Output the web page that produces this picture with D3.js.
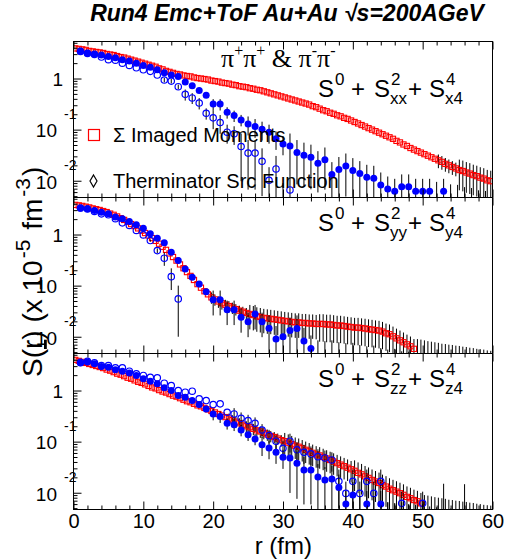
<!DOCTYPE html>
<html><head><meta charset="utf-8">
<script src="https://cdn.jsdelivr.net/npm/d3@7"></script>
<style>body{margin:0;background:#fff}svg{display:block}</style>
</head><body>
<svg id="c" width="508" height="559"></svg>
<script>
// ---------------- DATA ----------------
const rRed = [0.25,0.75,1.25,1.75,2.25,2.75,3.25,3.75,4.25,4.75,5.25,5.75,6.25,6.75,7.25,7.75,8.25,8.75,9.25,9.75,
10.25,10.75,11.25,11.75,12.25,12.75,13.25,13.75,14.25,14.75,15.25,15.75,16.25,16.75,17.25,17.75,18.25,18.75,19.25,19.75,
20.25,20.75,21.25,21.75,22.25,22.75,23.25,23.75,24.25,24.75,25.25,25.75,26.25,26.75,27.25,27.75,28.25,28.75,29.25,29.75,
30.25,30.75,31.25,31.75,32.25,32.75,33.25,33.75,34.25,34.75,35.25,35.75,36.25,36.75,37.25,37.75,38.25,38.75,39.25,39.75,
40.25,40.75,41.25,41.75,42.25,42.75,43.25,43.75,44.25,44.75,45.25,45.75,46.25,46.75,47.25,47.75,48.25,48.75,49.25,49.75,
50.25,50.75,51.25,51.75,52.25,52.75,53.25,53.75,54.25,54.75,55.25,55.75,56.25,56.75,57.25,57.75,58.25,58.75,59.25,59.75];

const redTop = [3.89,3.80,3.72,3.63,3.47,3.39,3.31,3.24,3.16,3.02,2.95,2.88,2.75,2.63,2.57,2.45,2.34,2.24,2.14,2.04,
1.95,1.86,1.78,1.70,1.58,1.51,1.41,1.35,1.29,1.23,1.20,1.15,1.12,1.10,1.05,1.02,1.00,0.977,0.955,0.912,
0.891,0.871,0.832,0.813,0.794,0.759,0.741,0.708,0.692,0.676,0.646,0.631,0.603,0.589,0.562,0.537,0.513,0.490,0.468,0.447,
0.427,0.407,0.389,0.372,0.355,0.339,0.324,0.309,0.288,0.275,0.257,0.240,0.229,0.214,0.204,0.191,0.182,0.170,0.162,0.151,
0.141,0.132,0.123,0.115,0.107,0.100,0.0933,0.0871,0.0813,0.0759,0.0708,0.0661,0.0603,0.0562,0.0513,0.0479,0.0437,0.0407,0.0380,0.0355,
0.0331,0.0309,0.0288,0.0269,0.0251,0.0234,0.0214,0.0200,0.0186,0.0174,0.0162,0.0155,0.0145,0.0138,0.0129,0.0123,0.0115,0.0110,0.0102,0.0098];
const redTopErr = [0,0,0,0,0,0,0,0,0,0, 0,0,0,0,0,0,0,0,0,0, 0,0,0,0,0,0,0,0,0,0, 0,0,0,0,0,0,0,0,0,0,
0,0,0,0,0,0,0,0,0,0, 0,0,0,0,0,0,0,0,0,0, 0,0,0,0,0,0,0,0,0,0, 0,0,0,0,0,0,0,0,0,0,
0,0,0,0,0,0,0,0,0,0, 0,0,0,0,0,0,0,0,0,0, 0,0,0,0,
0.0075,0.0070,0.0064,0.0060,0.0056,0.0052,
0.0097,0.0093,0.0087,0.0083,0.0077,0.0074,0.0069,0.0066,0.0061,0.0059];

const redMid = [3.80,3.72,3.63,3.51,3.39,3.24,3.13,3.02,2.88,2.75,2.57,2.43,2.26,2.09,1.93,1.76,1.60,1.46,1.32,1.19,
1.07,0.955,0.851,0.750,0.661,0.575,0.501,0.427,0.363,0.309,0.260,0.219,0.184,0.155,0.129,0.107,0.0912,0.0776,0.0676,0.0589,
0.0537,0.0490,0.0452,0.0422,0.0398,0.0372,0.0347,0.0324,0.0309,0.0292,0.0279,0.0266,0.0251,0.0243,0.0234,0.0229,0.0224,0.0219,0.0214,0.0209,
0.0204,0.0200,0.0195,0.0191,0.0191,0.0186,0.0186,0.0182,0.0182,0.0178,0.0178,0.0178,0.0174,0.0174,0.0170,0.0166,0.0166,0.0162,0.0158,0.0155,
0.0151,0.0151,0.0148,0.0145,0.0141,0.0138,0.0135,0.0132,0.0126,0.0117,0.0112,0.0102,0.0093,0.0085,0.0078,0.0071,0.0065,0.0058,
0.0040,0.0038,0.0036,0.0034,0.0033,0.0031,0.0030,0.0028,0.0027,0.0026,0.0025,0.0024,0.0023,0.0022,0.0021,0.0020,0.0019,0.0018,0.0017,0.0016,0.0015,0.0014];
const redMidErr = [0,0,0,0,0,0,0,0,0,0, 0,0,0,0,0,0,0,0,0,0, 0,0,0,0,0,0,0,0,0,0, 0,0,0,0,0,0,0,0,0,
0.0147,0.0134,0.0123,0.0113,0.0106,0.0100,0.0093,0.0087,0.0081,0.0077,0.0073,
0.0140,0.0133,0.0126,0.0122,0.0117,0.0115,0.0112,0.0110,0.0107,0.0105,0.0102,0.0100,0.0098,0.0096,0.0096,0.0093,0.0093,0.0091,0.0091,0.0089,
0.0098,0.0098,0.0096,0.0096,0.0094,0.0091,0.0091,0.0089,0.0087,0.0085,0.0083,0.0083,0.0081,0.0080,0.0078,0.0076,0.0074,0.0073,0.0069,0.0064,0.0062,0.0056,0.0051,0.0047,0.0043,0.0039,0.0036,0.0032,
0.0050,0.0050,0.0049,0.0048,0.0047,0.0047,0.0046,0.0045,0.0045,0.0044,0.0044,0.0043,0.0043,0.0042,0.0042,0.0041,0.0041,0.0040,0.0040,0.0040,0.0039,0.0039];

const redBot = [3.98,3.80,3.63,3.47,3.31,3.16,3.02,2.88,2.75,2.57,2.45,2.29,2.14,2.04,1.91,1.78,1.70,1.58,1.48,1.41,
1.32,1.23,1.15,1.10,1.02,0.955,0.912,0.851,0.794,0.759,0.708,0.661,0.617,0.589,0.550,0.513,0.490,0.457,0.427,0.398,
0.372,0.347,0.324,0.302,0.282,0.263,0.245,0.229,0.214,0.200,0.191,0.178,0.166,0.158,0.148,0.138,0.129,0.123,0.115,0.107,
0.102,0.0955,0.0891,0.0832,0.0794,0.0741,0.0692,0.0646,0.0603,0.0562,0.0537,0.0501,0.0468,0.0437,0.0407,0.0380,0.0355,0.0331,0.0309,0.0288,
0.0269,0.0245,0.0229,0.0209,0.0195,0.0178,0.0166,0.0155,0.0141,0.0132,0.0120,0.0112,0.0105,0.0098,0.0091,0.0083,0.0078,0.0072,0.0068,0.0062,
0.0040,0.0038,0.0036,0.0034,0.0033,0.0031,0.0030,0.0028,0.0027,0.0026,0.0025,0.0024,0.0023,0.0022,0.0021,0.0020,0.0019,0.0018,0.0017,0.0016];
const redBotErr = [0,0,0,0,0,0,0,0,0,0, 0,0,0,0,0,0,0,0,0,0, 0,0,0,0,0,0,0,0,0,0, 0,0,0,0,0,0,0,0,0,0, 0,0,0,0,
0.0705,0.0658,0.0613,0.0573,0.0535,0.050,0.0478,0.0445,0.0415,0.0395,0.037,0.0345,0.0323,0.0308,0.0288,0.0268,
0.0459,0.0430,0.0401,0.0374,0.0357,0.0333,0.0311,0.0291,0.0271,0.0253,0.0242,0.0225,0.0211,0.0197,0.0183,0.0171,0.0160,0.0149,0.0139,0.0130,
0.0161,0.0147,0.0137,0.0125,0.0117,0.0107,0.0100,0.0093,0.0085,0.0079,0.0072,0.0067,0.0063,0.0059,0.0055,0.0050,0.0047,0.0043,0.0041,0.0037,
0.0050,0.0050,0.0049,0.0048,0.0047,0.0047,0.0046,0.0045,0.0045,0.0044,0.0044,0.0043,0.0043,0.0042,0.0042,0.0041,0.0041,0.0040,0.0040,0.0040];

const rBlue = [1,2,3,4,5,6,7,8,9,10,11,12,13,14,15,16,17,18,19,20,21,22,23,24,25,26,27,28,29,30,
31,32,33,34,35,36,37,38,39,40,41,42,43,44,45,46,47,48,49,50,51,52,53,54,55,56,57,58,59,60];

const fillTop = [3.43,3.16,3.02,2.88,2.69,2.54,2.34,2.19,2.00,1.80,1.66,1.48,1.29,1.17,1.10,0.851,0.724,0.582,0.468,0.316,
0.316,0.219,0.188,0.155,0.129,0.115,0.102,0.0891,0.0661,0.0525,0.0479,0.0355,0.0316,0.0288,0.0219,0.0257,0.0132,0.0166,0.0195,0.0158,
0.0138,0.0117,0.0112,0.0083,0.0069,0.0062,0.0076,0.0076,0.0062,0.0062,0.0062,0.0035,0.0062,0.0030,0.0028,0.0025,0.0022,0.0020,0.0018,0.0016];
const fillTopErr = [0,0,0,0,0,0,0,0,0,0,0,0,0,0,0,0,0,0,0,
0.079,0.079,0.055,0.047,0.039,
0.052,0.046,0.041,0.036,0.026,0.021,
0.036,0.027,0.024,0.022,0.016,0.019,0.0099,0.0125,0.0146,0.0119,
0.0104,0.0088,0.0084,0.0062,0.0052,0.0047,0.0057,0.0057,0.0047,0.0047,
0.0047,0.006,0.0047,0.0055,0.0055,0.005,0.005,0.0045,0.0045,0.0040];
const openTop = [3.39,3.09,2.95,2.63,2.34,2.29,2.00,1.80,1.62,1.48,1.38,1.17,0.933,0.891,0.692,0.490,0.417,0.331,0.209,0.170,
0.138,0.0891,0.0832,0.0468,0.0347,0.0347,0.0240,0.0102,0.0170,0.0040,0.0066];
const openTopErr = [0,0,0,0,0,0,0,0,0,0,0,0,
0.093,0.089,0.069,0.12,0.10,0.083,0.052,0.068,0.055,0.036,0.033,
0.037,0.028,0.028,0.019,0.0082,0.0136,0.0050,0.0053];

const fillMid = [3.28,3.18,2.95,2.74,2.54,2.19,2.03,1.80,1.55,1.33,1.03,0.847,0.687,0.451,0.309,0.212,0.146,0.108,0.0762,0.0531,
0.0531,0.0339,0.0339,0.0240,0.0197,0.0279,0.0197,0.0146,0.0090,0.0100,0.0132,0.0145,0.0083,0.0059,0.0035,0.0032,0.0030,0.0028,0.0030,0.0026,
0.0024,0.0025,0.0022,0.0020,0.0021,0.0018,0.0017,0.0016,0.0015,0.0014];
const fillMidErr = [0,0,0,0,0,0,0,0,0,0,0,0,0,0,
0.031,0.021,0.015,0.011,0.0076,
0.027,0.027,0.017,0.017,0.012,0.0099,0.014,0.0099,
0.0117,0.0072,0.0080,0.0106,0.0116,0.0066,0.0047,
0.005,0.005,0.0055,0.005,0.0045,0.005,0.0045,0.004,0.0045,0.004,0.0035,0.004,0.0035,0.0035,0.003,0.003];
const openMid = [3.31,3.16,2.82,2.54,2.43,2.04,1.69,1.50,1.20,0.984,0.762,0.485,0.344,0.150,0.0550];
const openMidErr = [0,0,0,0,0,0,0,0,0,0,0.04,0.05,0.10,0.068,0.045];

const fillBot = [3.44,3.60,3.33,2.95,2.86,2.54,2.39,2.19,1.97,1.69,1.52,1.35,1.13,1.00,0.798,0.740,0.637,0.531,0.437,0.348,
0.309,0.229,0.215,0.169,0.137,0.113,0.0873,0.0752,0.0617,0.0493,0.0479,0.0376,0.0279,0.0279,0.0204,0.0178,0.0186,0.0127,0.0060,0.0090,
0.0040,0.0060,0.0040,0.0060,0.0035,0.0033,0.0030,0.0028,0.0027,0.0025,0.0024,0.0022,0.0020,0.0019,0.0018,0.0017,0.0016,0.0015,0.0014,0.0013];
const fillBotErr = [0,0,0,0,0,0,0,0,0,0,0,0,0,0,0,0,0,0,0,
0.087,0.077,0.057,0.054,0.042,0.034,0.028,
0.035,0.030,0.025,0.020,
0.038,0.030,0.022,0.022,0.016,0.014,0.015,0.010,0.0048,0.0072,0.0045,0.0048,0.0045,0.0048,
0.003,0.003,0.0035,0.003,0.003,0.0035,0.003,0.003,0.013,0.003,0.003,0.013,0.003,0.003,0.003,0.003];
const openBot = [3.55,3.72,3.47,3.09,3.09,2.78,2.78,2.39,2.12,1.97,1.82,1.77,1.39,1.25,1.00,0.927,0.970,0.687,0.637,0.531,
0.548,0.376,0.348,0.286,0.258,0.229,0.169,0.131,0.102,0.0741,0.102,0.0692,0.0617,0.0575,0.0508,0.0479,0.0438,0.0167,0.0097,0.0167,
0.0097,0.0167,0.0097,0.0167,0.0035,0.0030,0.0062,0.0030,0.0028,0.0062];
const openBotErr = [0,0,0,0,0,0,0,0,0,0,0,0,0,0,0,0,0,0,0,0,0,0,
0.104,0.086,0.077,0.069,0.051,0.039,0.031,
0.030,0.041,0.028,0.025,0.023,0.020,0.019,0.018,
0.0117,0.0068,0.0117,0.0068,0.0117,0.0068,0.0117,0.003,0.003,0.0043,0.003,0.003,0.0043];

const xTickValues = [0,10,20,30,40,50,60];
const xMinorValues = [2,4,6,8,12,14,16,18,22,24,26,28,32,34,36,38,42,44,46,48,52,54,56,58];
const yTickValues = [1,0.1,0.01];
const yTickBase = ["1","10","10"];
const yTickExp = ["","-1","-2"];
const yMinorValues = [0.005,0.006,0.007,0.008,0.009,0.02,0.03,0.04,0.05,0.06,0.07,0.08,0.09,0.2,0.3,0.4,0.5,0.6,0.7,0.8,0.9,2,3,4,5];
const panelSub = [["xx","x4"],["yy","y4"],["zz","z4"]];
const legendLabels = ["\u03A3 Imaged Moments","Therminator Src Function"];

// ---------------- LAYOUT ----------------
const SANS = "'Liberation Sans', Arial, Helvetica, sans-serif";
const SERIF = "'Liberation Serif', 'Times New Roman', serif";
const svg = d3.select('#c');
const X0 = 73.5, X1 = 492.5;
const x = d3.scaleLinear().domain([0,60]).range([X0, X1]);
const panelTops = [41.5, 197.5, 353.5];
const PH = 156;

const panels = [
  {red: redTop, redErr: redTopErr, fill: fillTop, fillErr: fillTopErr, open: openTop, openErr: openTopErr},
  {red: redMid, redErr: redMidErr, fill: fillMid, fillErr: fillMidErr, open: openMid, openErr: openMidErr},
  {red: redBot, redErr: redBotErr, fill: fillBot, fillErr: fillBotErr, open: openBot, openErr: openBotErr}
];

const defs = svg.append('defs');

panels.forEach((p, i) => {
  const top = panelTops[i], bot = top + PH;
  const y = d3.scaleLog().domain([0.0047, 5.3]).range([bot, top]);
  const g = svg.append('g');
  const cid = 'clip' + i;
  defs.append('clipPath').attr('id', cid).append('rect')
    .attr('x', X0).attr('y', top).attr('width', X1 - X0).attr('height', PH);
  const data = g.append('g').attr('clip-path', `url(#${cid})`);

  const errLines = (xs, vs, es) => {
    const pts = vs.map((v, k) => ({r: xs[k], v, e: es[k]})).filter(d => d.e > 0);
    data.append('g').selectAll('line').data(pts).join('line')
      .attr('x1', d => x(d.r)).attr('x2', d => x(d.r))
      .attr('y1', d => y(d.v + d.e))
      .attr('y2', d => Math.min(bot + 5, y(Math.max(d.v - d.e, 0.001))))
      .attr('stroke', '#000').attr('stroke-width', 1);
  };
  // red series
  errLines(rRed, p.red, p.redErr);
  data.append('g').selectAll('rect').data(p.red.map((v, k) => ({r: rRed[k], v}))).join('rect')
    .attr('x', d => x(d.r) - 2.6).attr('y', d => y(d.v) - 2.6)
    .attr('width', 5.2).attr('height', 5.2)
    .attr('fill', 'none').attr('stroke', '#ff0000').attr('stroke-width', 1.1);
  // blue open
  errLines(rBlue, p.open, p.openErr);
  data.append('g').selectAll('circle').data(p.open.map((v, k) => ({r: rBlue[k], v}))).join('circle')
    .attr('cx', d => x(d.r)).attr('cy', d => y(d.v)).attr('r', 3.2)
    .attr('fill', 'none').attr('stroke', '#0000ff').attr('stroke-width', 1.2);
  // blue filled
  errLines(rBlue, p.fill, p.fillErr);
  data.append('g').selectAll('circle').data(p.fill.map((v, k) => ({r: rBlue[k], v}))).join('circle')
    .attr('cx', d => x(d.r)).attr('cy', d => y(d.v)).attr('r', 3.5)
    .attr('fill', '#0000ff');

  // axes ticks via d3 axes
  const styleAxis = sel => { sel.select('.domain').remove(); sel.selectAll('line').attr('stroke', '#000'); };
  g.append('g').attr('transform', `translate(0,${bot})`)
    .call(d3.axisBottom(x).tickValues(xMinorValues).tickSize(-4).tickFormat('')).call(styleAxis);
  g.append('g').attr('transform', `translate(0,${top})`)
    .call(d3.axisTop(x).tickValues(xMinorValues).tickSize(-4).tickFormat('')).call(styleAxis);
  g.append('g').attr('transform', `translate(0,${top})`)
    .call(d3.axisTop(x).tickValues(xTickValues).tickSize(-8).tickFormat('')).call(styleAxis);
  const xb = g.append('g').attr('transform', `translate(0,${bot})`)
    .call(d3.axisBottom(x).tickValues(xTickValues).tickSize(-8).tickPadding(4)
      .tickFormat(i === 2 ? d3.format('d') : '')).call(styleAxis);
  xb.selectAll('text').attr('font-family', SANS).attr('font-size', 20).attr('fill', '#000');
  g.append('g').attr('transform', `translate(${X0},0)`)
    .call(d3.axisLeft(y).tickValues(yMinorValues).tickSize(-4).tickFormat('')).call(styleAxis);
  g.append('g').attr('transform', `translate(${X0},0)`)
    .call(d3.axisLeft(y).tickValues(yTickValues).tickSize(-8).tickFormat('')).call(styleAxis);

  // y tick labels
  yTickValues.forEach((tv, k) => {
    const yy = y(tv);
    if (yTickExp[k] === '') {
      g.append('text').attr('x', 63).attr('y', yy + 1).attr('dy', '0.36em')
        .attr('text-anchor', 'end').attr('font-family', SANS).attr('font-size', 19).text(yTickBase[k]);
    } else {
      g.append('text').attr('x', 57).attr('y', yy + 1).attr('dy', '0.36em')
        .attr('text-anchor', 'end').attr('font-family', SANS).attr('font-size', 19).text(yTickBase[k]);
      g.append('text').attr('x', 64).attr('y', yy - 16).attr('dy', '0.36em')
        .attr('text-anchor', 'start').attr('font-family', SANS).attr('font-size', 14).text(yTickExp[k]);
    }
  });

  // frame
  g.append('rect').attr('x', X0).attr('y', top).attr('width', X1 - X0).attr('height', PH)
    .attr('fill', 'none').attr('stroke', '#000').attr('stroke-width', 1);

  // panel formula label (superscript stacked over subscript as in the original)
  const B = i === 0 ? 97 : top + 33;
  const lab = g.append('g').attr('font-family', SANS).attr('fill', '#000');
  const put = (tx, xx, yy, fs) => lab.append('text').attr('x', xx).attr('y', yy).attr('font-size', fs).text(tx);
  put('S', 318, B, 24); put('0', 335, B - 12, 17);
  put('+', 351, B, 24);
  put('S', 374, B, 24); put('2', 391, B - 12, 17); put(panelSub[i][0], 390, B + 7, 17);
  put('+', 408, B, 24);
  put('S', 429, B, 24); put('4', 446, B - 12, 17); put(panelSub[i][1], 445, B + 7, 17);
});

// pion label
const pl = svg.append('text').attr('x', 221).attr('y', 67).attr('font-family', SERIF).attr('font-size', 26);
pl.append('tspan').text('\u03C0');
pl.append('tspan').text('+').attr('font-size', 16).attr('dy', -11);
pl.append('tspan').text('\u03C0').attr('dy', 11);
pl.append('tspan').text('+').attr('font-size', 16).attr('dy', -11);
pl.append('tspan').text(' & \u03C0').attr('dy', 11);
pl.append('tspan').text('-').attr('font-size', 16).attr('dy', -11);
pl.append('tspan').text('\u03C0').attr('dy', 11);
pl.append('tspan').text('-').attr('font-size', 16).attr('dy', -11);

// legend
svg.append('rect').attr('x', 88.5).attr('y', 129.5).attr('width', 11).attr('height', 11)
  .attr('fill', 'none').attr('stroke', '#ff0000').attr('stroke-width', 1.2);
svg.append('path').attr('d', 'M93.5,175 L97,181 L93.5,187 L90,181 Z')
  .attr('fill', 'none').attr('stroke', '#000').attr('stroke-width', 1.2);
svg.append('text').attr('x', 113).attr('y', 135).attr('dy', '0.36em').attr('font-family', SANS)
  .attr('font-size', 20).text(legendLabels[0]);
svg.append('text').attr('x', 113).attr('y', 181).attr('dy', '0.36em').attr('font-family', SANS)
  .attr('font-size', 20).text(legendLabels[1]);

// title
svg.append('text').attr('x', 287).attr('y', 21).attr('text-anchor', 'middle')
  .attr('font-family', SANS).attr('font-weight', 'bold').attr('font-style', 'italic')
  .attr('font-size', 23).text('Run4 Emc+ToF Au+Au \u221As=200AGeV');

// x axis title
svg.append('text').attr('x', 312).attr('y', 554).attr('text-anchor', 'end')
  .attr('font-family', SANS).attr('font-size', 24).text('r (fm)');

// y axis title
const yt = svg.append('text').attr('transform', 'translate(42,377) rotate(-90)')
  .attr('font-family', SANS).attr('font-size', 28);
yt.append('tspan').text('S(');
yt.append('tspan').text('r').attr('text-decoration', 'underline');
yt.append('tspan').text(') (x 10');
yt.append('tspan').text('-5').attr('font-size', 21).attr('dy', -12).attr('dx', 2);
yt.append('tspan').text(' fm').attr('dy', 12).attr('dx', 2);
yt.append('tspan').text('-3').attr('font-size', 21).attr('dy', -12).attr('dx', 2);
yt.append('tspan').text(')').attr('dy', 12).attr('dx', 2);
</script>
</body></html>
